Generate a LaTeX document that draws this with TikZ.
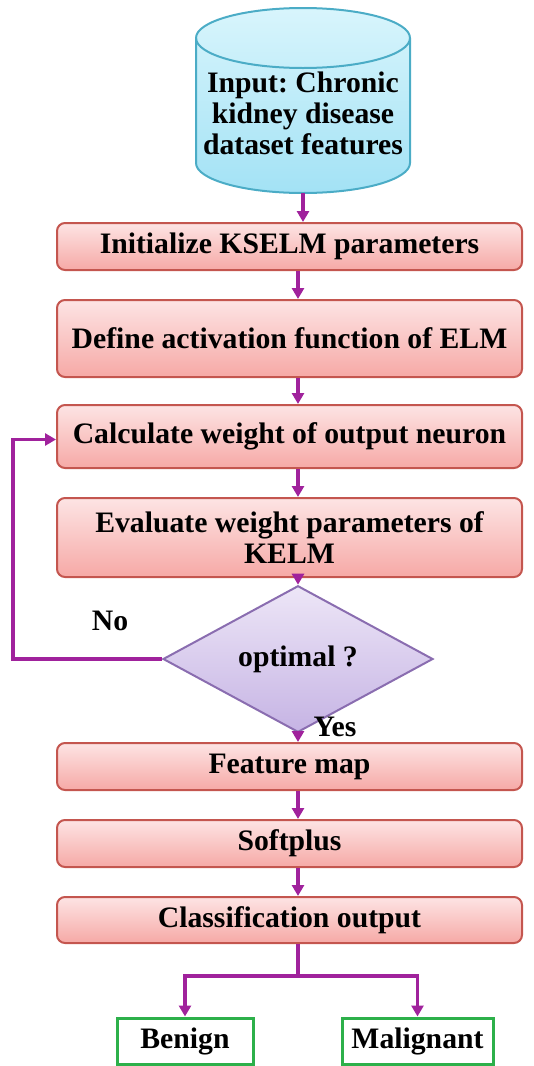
\documentclass[tikz,border=0pt]{standalone}
\usepackage{fontspec}
\setmainfont{Liberation Serif}
\usetikzlibrary{arrows.meta,shapes.geometric,calc}
\frenchspacing
\definecolor{boxedge}{HTML}{C4564F}
\definecolor{boxtop}{HTML}{FDE4E4}
\definecolor{boxbot}{HTML}{F6A9A6}
\definecolor{cyledge}{HTML}{4BACC6}
\definecolor{cyltop}{HTML}{D8F5FC}
\definecolor{cylbot}{HTML}{A3E2F5}
\definecolor{diaedge}{HTML}{8A6DB0}
\definecolor{diatop}{HTML}{EDE6F7}
\definecolor{diabot}{HTML}{C6B4E4}
\definecolor{arrcol}{HTML}{A0229C}
\definecolor{grn}{HTML}{2DB04A}
\tikzset{
  txt/.style={font=\bfseries\fontsize{29.7}{31}\selectfont, text=black},
  procbox/.style={txt, draw=boxedge, line width=2pt, rounded corners=8pt,
    top color=boxtop, bottom color=boxbot, minimum width=465pt, inner sep=0pt, align=center},
  outbox/.style={txt, draw=grn, line width=3pt, fill=white, minimum height=46pt, inner sep=0pt},
  decision/.style={txt, diamond, draw=diaedge, line width=2pt, top color=diatop, bottom color=diabot,
    minimum width=270pt, minimum height=108pt, inner sep=0pt},
  flow/.style={draw=arrcol, line width=3.5pt, -{Triangle[length=11pt,width=12pt]}},
  flowline/.style={draw=arrcol, line width=3.5pt},
}
\begin{document}
\begin{tikzpicture}[x=1pt,y=1pt]
\useasboundingbox (0,0) rectangle (534,-1066);
% cylinder
\path[draw=cyledge, line width=2pt, top color=cyltop, bottom color=cylbot]
  (196,-38) -- (196,-163) arc[start angle=180,end angle=360,x radius=107,y radius=30]
  -- (410,-38) arc[start angle=0,end angle=180,x radius=107,y radius=30] -- cycle;
\draw[cyledge, line width=2pt] (196,-38) arc[start angle=180,end angle=360,x radius=107,y radius=30];
\node[minimum width=214pt, minimum height=185pt, inner sep=0pt] (cyl) at (303,-100.5) {};
\node[txt, align=center] (cyltext) at (303,-113) {Input: Chronic\\kidney disease\\dataset features};
% axis of the flow
\coordinate (ax) at (298,0);
\coordinate (fb) at (13,0);
% boxes
\node[procbox, minimum height=47pt] (b1) at (289.5,-246.5) {Initialize KSELM parameters};
\node[procbox, minimum height=77pt] (b2) at (289.5,-338.5) {Define activation function of ELM};
\node[procbox, minimum height=63pt] (b3) at (289.5,-436.5) {Calculate weight of output neuron};
\node[procbox, minimum height=79pt] (b4) at (289.5,-537.5) {Evaluate weight parameters of\\KELM};
\node[decision] (d) at (298,-659) {optimal ?};
\node[procbox, minimum height=47pt] (b5) at (289.5,-766.5) {Feature map};
\node[procbox, minimum height=47pt] (b6) at (289.5,-843.5) {Softplus};
\node[procbox, minimum height=46pt] (b7) at (289.5,-920) {Classification output};
\node[outbox, minimum width=136pt] (ben) at (185,-1041) {Benign};
\node[outbox, minimum width=151pt] (mal) at (417.5,-1041) {Malignant};
% labels
\node[txt] (no) at (110,-621) {No};
\node[txt] (yes) at (335,-727) {Yes};
% connectors
\draw[flow] (cyl.south) -- (cyl.south |- b1.north);
\draw[flow] (b1.south -| ax) -- (b2.north -| ax);
\draw[flow] (b2.south -| ax) -- (b3.north -| ax);
\draw[flow] (b3.south -| ax) -- (b4.north -| ax);
\draw[flow] (b4.south -| ax) -- (d.north);
\draw[flow] (d.south) -- (b5.north -| ax);
\draw[flow] (b5.south -| ax) -- (b6.north -| ax);
\draw[flow] (b6.south -| ax) -- (b7.north -| ax);
\draw[flow] (d.west) -- (d.west -| fb) |- ($(b3.west)+(0,-3)$);
\coordinate (br) at ($(b7.south -| ax)+(0,-32)$);
\draw[flowline] (b7.south -| ax) -- (br);
\draw[flow] (br) -| (ben.north);
\draw[flow] (br) -| (mal.north);
\end{tikzpicture}
\end{document}
